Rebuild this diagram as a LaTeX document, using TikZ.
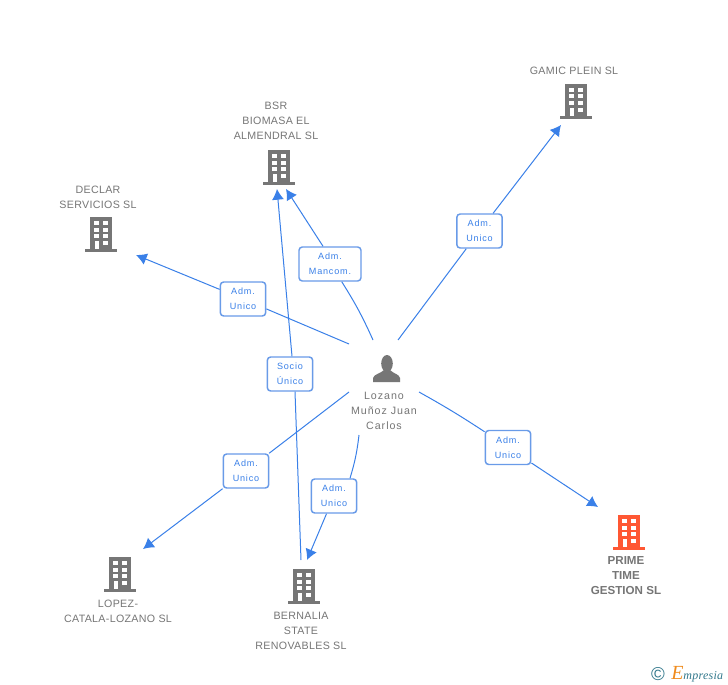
\documentclass[tikz,border=0pt]{standalone}
\usepackage{fontspec}
\setmainfont{Liberation Sans}
\newfontfamily\spacedfont[LetterSpace=3]{Liberation Sans}
\newfontfamily\widefont[LetterSpace=9]{Liberation Sans}
\newfontfamily\logofont[LetterSpace=2]{Liberation Serif}
\usepackage{pgf,tikz}
\usetikzlibrary{arrows.meta,
           calc,
           positioning}
\definecolor{bleu}{RGB}{58,128,232}
\definecolor{bord}{RGB}{105,155,232}
\definecolor{gris}{RGB}{118,118,118}
\definecolor{orange}{RGB}{255,87,51}
\definecolor{teal}{RGB}{50,120,140}
\definecolor{ocre}{RGB}{240,140,30}
\tikzset{
  societe/.style={font=\spacedfont\fontsize{8}{11.25}\selectfont,text=gris,align=center,inner sep=0pt},
  adm/.style={draw=bord,line width=1.1pt,fill=white,rounded corners=2.5pt,text=bleu,align=center,
    font=\widefont\fontsize{6.8}{11.25}\selectfont,minimum width=34pt,minimum height=25.5pt,inner sep=0pt},
  lien/.style={draw=bleu,line width=0.75pt},
  fleche/.style={lien,-{Latex[length=8pt,width=9pt]}},
  pics/immeuble/.style={code={
    \fill[#1](-11,-17)rectangle(11,14.5);
    \fill[#1](-16,14.5)rectangle(16,17.5);
    \foreach \y in {-13,-6.5,0}{
      \fill[white](-7,\y)rectangle(-2,\y+4);
      \fill[white](2,\y)rectangle(7,\y+4);}
    \fill[white](2,6.5)rectangle(7,11);
    \fill[white](-6.5,6.5)rectangle(-2,14.5);
  }}
}
\begin{document}
\begin{tikzpicture}[x=0.75pt,y=-0.75pt]
\useasboundingbox[fill=white](0,0)rectangle(728,685);
% immeubles
\path(576,101)pic{immeuble=gris};
\path(279,167)pic{immeuble=gris};
\path(101,234)pic{immeuble=gris};
\path(120,574)pic{immeuble=gris};
\path(304,586)pic{immeuble=gris};
\path(629,532)pic{immeuble=orange};
% noms
\node[societe](gamic)at(574,71){GAMIC PLEIN SL};
\node[societe](bsr)at(276,121){BSR\\BIOMASA EL\\ALMENDRAL SL};
\node[societe](declar)at(98,197){DECLAR\\SERVICIOS SL};
\node[societe](lopez)at(118,611){LOPEZ-\\CATALA-LOZANO SL};
\node[societe](bernalia)at(301,631){BERNALIA\\STATE\\RENOVABLES SL};
\node[societe,font=\bfseries\fontsize{8.7}{11.25}\selectfont](prime)at(626,575.5){PRIME\\TIME\\GESTION SL};
% personne
\fill[gris](387,363.5)ellipse(5.8 and 8.5);
\fill[gris](373,382)--(373,378)..controls(374,374)and(380,374)..(384,370)--(390,370)..controls(394,374)and(399,374)..(400,378)--(400,382)--cycle;
\node[societe,font=\widefont\fontsize{8}{11.25}\selectfont](lozano)at(384,410.5){Lozano\\Muñoz Juan\\Carlos};
% extremites
\coordinate(pA)at(398,340);
\coordinate(pB)at(373,340);
\coordinate(pC)at(349,344);
\coordinate(pD)at(349,392);
\coordinate(pE)at(359,435);
\coordinate(pF)at(419,392);
\coordinate(tGamic)at(561,125);
\coordinate(tBsrA)at(286,189);
\coordinate(tBsrB)at(277,189);
\coordinate(tDeclar)at(136,255);
\coordinate(tLopez)at(143,549);
\coordinate(tBernalia)at(307,560);
\coordinate(sBernalia)at(301,560);
\coordinate(tPrime)at(598,507);
% etiquettes
\node[adm](admGamic)at(479.5,231){Adm.\\Unico};
\node[adm,minimum width=46.5pt](admBsr)at(330,264){Adm.\\Mancom.};
\node[adm](admDeclar)at(243,299){Adm.\\Unico};
\node[adm](socio)at(290,374){Socio\\Único};
\node[adm](admLopez)at(246,471){Adm.\\Unico};
\node[adm](admBernalia)at(334,496){Adm.\\Unico};
\node[adm](admPrime)at(508,447.5){Adm.\\Unico};
% liens
\draw[lien](pA)--(admGamic);
\draw[fleche](admGamic)--(tGamic);
\draw[lien](pB)to[bend right=4](admBsr);
\draw[fleche]($(admBsr.north)+(-7,0)$)--(tBsrA);
\draw[lien](pC)--(admDeclar);
\draw[fleche](admDeclar)--(tDeclar);
\draw[lien](sBernalia)--($(socio.south)+(5,0)$);
\draw[fleche]($(socio.north)+(2,0)$)--(tBsrB);
\draw[lien](pD)--(admLopez);
\draw[fleche](admLopez)--(tLopez);
\draw[lien](pE)to[bend left=5]($(admBernalia.north)+(16,0)$);
\draw[fleche](admBernalia)--(tBernalia);
\draw[lien](pF)to[bend left=2](admPrime);
\draw[fleche](admPrime)--(tPrime);
% logo
\node[text=teal,font=\fontsize{14}{14}\selectfont,inner sep=0pt](copyr)at(658,674){©};
\node[font=\logofont\itshape\fontsize{9}{10}\selectfont,text=teal,inner sep=0pt,anchor=west](logo)at(671,674){{\color{ocre}\fontsize{15}{10}\selectfont E}mpresia};
\end{tikzpicture}
\end{document}
